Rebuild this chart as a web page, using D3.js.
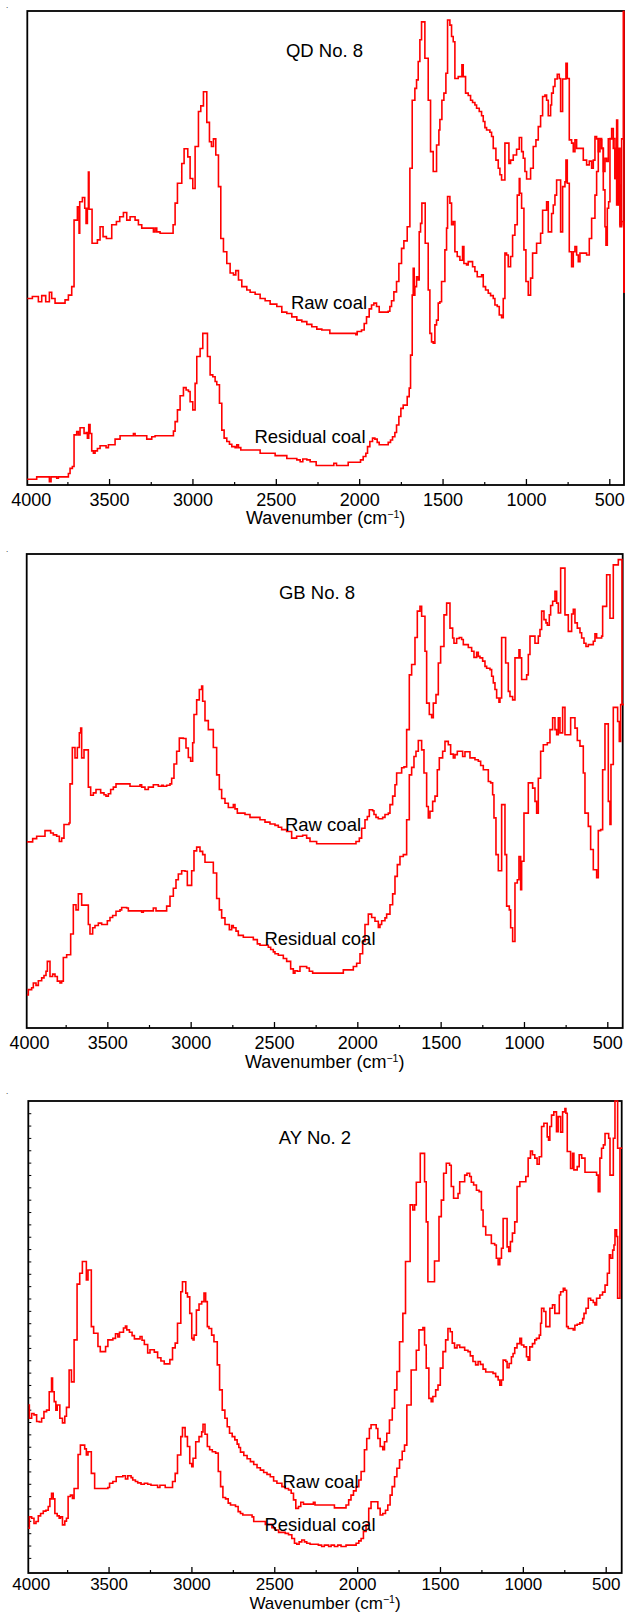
<!DOCTYPE html>
<html>
<head>
<meta charset="utf-8">
<script src="https://cdn.jsdelivr.net/npm/d3@7"></script>
<style>
  body { margin: 0; background: #fff; }
  text { font-family: "Liberation Sans", Arial, Helvetica, sans-serif; fill: #000; }
</style>
</head>
<body>
<script>
// FTIR spectra: [wavenumber (cm-1), relative absorbance (0-100 of panel height)]
const qdRaw = [[4000,39.1],[3960,39.5],[3924,38.4],[3904,39.7],[3880,38.4],[3858,40.4],[3844,39.1],[3824,38.1],[3764,38.8],[3744,39.8],[3724,41.6],[3710,55.7],[3690,58.5],[3680,52.9],[3676,59.6],[3660,60.5],[3646,58.2],[3638,55.0],[3630,58.2],[3624,65.9],[3620,58.0],[3602,50.8],[3570,51.5],[3554,54.3],[3536,52.2],[3516,51.8],[3484,54.7],[3456,55.4],[3436,56.4],[3414,57.3],[3394,55.7],[3374,56.4],[3344,55.7],[3324,54.7],[3304,54.0],[3234,53.2],[3224,54.0],[3214,53.2],[3194,52.9],[3116,54.7],[3104,59.3],[3090,63.5],[3064,67.7],[3050,70.8],[3028,69.1],[3014,64.5],[2998,62.4],[2984,71.3],[2964,78.7],[2950,79.9],[2934,82.9],[2914,76.4],[2898,72.3],[2886,71.3],[2874,72.9],[2860,69.5],[2844,62.8],[2830,51.8],[2814,49.0],[2794,46.5],[2774,44.5],[2754,44.1],[2740,45.0],[2724,43.0],[2704,41.6],[2674,40.9],[2654,40.4],[2624,40.0],[2594,39.1],[2564,38.6],[2534,37.9],[2494,37.4],[2464,36.2],[2434,35.9],[2404,35.2],[2374,34.5],[2344,34.2],[2314,33.6],[2284,33.1],[2254,32.6],[2224,32.4],[2176,31.7],[2020,31.4],[2012,32.1],[1986,32.4],[1970,33.8],[1956,35.2],[1940,36.9],[1926,37.7],[1912,38.1],[1896,37.4],[1880,36.2],[1826,36.4],[1816,37.4],[1806,38.6],[1792,40.5],[1776,42.7],[1762,46.5],[1746,49.7],[1732,51.3],[1712,54.3],[1696,66.7],[1682,81.1],[1666,83.6],[1656,85.4],[1646,89.3],[1636,93.9],[1626,97.7],[1606,90.0],[1586,81.1],[1572,70.2],[1556,66.0],[1536,71.6],[1522,74.8],[1516,77.0],[1504,81.1],[1492,82.6],[1480,86.8],[1470,98.1],[1456,97.0],[1446,94.6],[1436,93.5],[1426,85.7],[1406,86.1],[1384,88.6],[1376,86.1],[1362,82.6],[1346,82.1],[1332,81.1],[1320,80.6],[1306,80.1],[1296,79.4],[1280,78.7],[1266,77.8],[1256,76.6],[1246,75.3],[1236,74.8],[1216,74.3],[1206,73.4],[1196,70.9],[1180,68.4],[1166,66.7],[1156,65.3],[1146,64.2],[1126,72.0],[1102,67.7],[1092,68.4],[1076,69.5],[1056,70.7],[1040,73.2],[1026,70.2],[1016,68.8],[1006,66.0],[996,64.4],[972,66.7],[956,71.3],[940,72.7],[926,75.5],[912,77.8],[900,81.9],[886,82.2],[876,81.1],[866,77.8],[852,80.1],[846,82.6],[836,84.0],[826,85.6],[812,86.6],[800,85.7],[792,78.7],[780,85.6],[760,88.9],[752,85.7],[740,72.7],[726,72.0],[716,70.2],[706,72.7],[696,70.9],[656,68.4],[636,67.4],[620,68.2],[606,66.7],[596,68.4],[586,73.4],[576,72.9],[566,70.2],[556,72.7],[546,70.9],[536,66.0],[526,68.8],[516,68.1],[506,72.9],[486,75.1],[476,70.9],[466,64.5],[456,76.9],[450,59.0],[442,70.9],[436,54.7],[426,72.9],[416,99.9],[412,40.5],[400,40.5]];

const qdResidual = [[4000,0.8],[3934,1.3],[3858,0.3],[3848,1.3],[3814,1.0],[3804,1.3],[3744,2.0],[3734,3.1],[3720,3.5],[3710,10.2],[3694,10.9],[3684,10.2],[3674,11.7],[3650,10.5],[3638,10.7],[3630,9.5],[3622,12.4],[3614,10.5],[3604,6.8],[3594,6.3],[3584,6.8],[3570,7.3],[3554,7.9],[3518,7.5],[3504,8.1],[3464,9.3],[3434,10.0],[3354,10.5],[3344,10.0],[3274,9.3],[3244,9.8],[3224,10.0],[3114,11.0],[3104,13.0],[3090,15.5],[3074,18.5],[3054,20.2],[3038,19.7],[3024,19.4],[3014,17.2],[2998,15.5],[2984,21.1],[2974,26.8],[2954,28.5],[2938,31.7],[2910,26.8],[2894,22.9],[2878,22.5],[2864,21.5],[2854,20.8],[2838,16.9],[2824,11.2],[2810,9.5],[2794,8.8],[2778,8.2],[2764,7.7],[2744,7.5],[2734,8.1],[2724,7.5],[2710,7.0],[2594,6.3],[2504,5.8],[2434,5.2],[2374,4.9],[2354,4.5],[2338,5.1],[2314,4.9],[2294,4.5],[2258,3.7],[2152,4.2],[2136,3.7],[2066,4.4],[1992,4.9],[1976,5.6],[1960,6.3],[1950,7.7],[1936,8.8],[1920,9.5],[1906,9.3],[1892,8.6],[1880,8.1],[1826,8.6],[1812,9.1],[1800,9.8],[1786,10.7],[1776,12.3],[1762,14.1],[1750,15.8],[1736,16.5],[1712,18.3],[1700,20.1],[1692,27.1],[1682,39.8],[1676,45.5],[1670,39.8],[1666,41.6],[1656,43.7],[1646,43.0],[1640,53.2],[1632,55.0],[1624,59.3],[1604,50.8],[1586,40.9],[1576,31.7],[1566,29.9],[1556,29.6],[1546,33.5],[1536,34.5],[1526,38.1],[1516,38.4],[1506,42.7],[1486,49.4],[1476,54.0],[1470,60.7],[1456,59.3],[1446,54.7],[1436,55.4],[1426,49.0],[1412,48.0],[1396,47.2],[1380,50.1],[1372,46.5],[1356,46.2],[1346,46.9],[1320,45.8],[1306,44.8],[1292,43.7],[1266,44.1],[1256,41.6],[1242,40.9],[1226,40.2],[1212,39.7],[1196,39.1],[1186,37.7],[1172,37.4],[1160,35.6],[1146,35.0],[1136,39.1],[1126,48.7],[1116,48.3],[1106,45.8],[1092,48.0],[1080,52.5],[1066,54.7],[1052,61.0],[1040,64.5],[1036,61.4],[1026,58.2],[1012,49.4],[1000,42.7],[986,39.8],[972,43.4],[960,48.7],[936,50.8],[912,52.9],[900,57.8],[876,59.6],[866,53.2],[846,57.1],[836,58.9],[826,61.0],[816,64.2],[792,53.2],[780,62.8],[766,63.8],[760,68.4],[752,63.5],[740,49.0],[726,45.8],[716,49.0],[706,50.1],[696,48.3],[686,46.9],[676,48.7],[636,48.3],[620,51.8],[606,56.1],[586,61.0],[576,66.0],[566,73.0],[546,70.9],[536,62.1],[526,54.3],[520,50.4],[512,58.2],[504,59.6],[496,73.0],[466,64.5],[456,58.9],[446,63.1],[436,54.3],[426,55.4],[412,40.5],[400,40.5]];

const gbRaw = [[3984,39.0],[3948,39.7],[3924,40.2],[3874,41.4],[3840,40.9],[3824,40.5],[3804,40.2],[3788,39.1],[3774,39.8],[3760,42.7],[3730,43.0],[3724,51.3],[3710,59.0],[3694,56.8],[3680,59.0],[3668,62.1],[3660,63.1],[3654,56.8],[3640,58.5],[3614,50.6],[3600,48.9],[3584,49.4],[3568,50.1],[3540,49.4],[3520,49.0],[3508,48.7],[3494,49.2],[3480,50.1],[3464,50.6],[3448,51.3],[3364,50.8],[3304,51.1],[3294,50.6],[3274,50.1],[3254,50.6],[3224,51.1],[3194,50.8],[3174,51.0],[3164,50.8],[3144,51.0],[3124,51.3],[3114,52.5],[3100,55.5],[3084,58.2],[3068,61.0],[3044,60.9],[3028,58.9],[3014,56.9],[3000,56.1],[2988,60.0],[2980,66.0],[2964,69.1],[2948,71.3],[2934,72.0],[2928,68.8],[2914,64.7],[2894,62.8],[2864,59.0],[2844,53.2],[2828,50.1],[2814,48.2],[2794,47.2],[2774,46.3],[2744,46.9],[2734,46.0],[2720,45.1],[2674,44.8],[2644,44.2],[2584,43.7],[2554,43.2],[2524,42.8],[2494,42.5],[2474,42.1],[2454,41.6],[2424,41.2],[2394,39.8],[2364,40.2],[2328,40.4],[2304,39.8],[2284,39.1],[2244,38.6],[2008,39.1],[1988,39.8],[1974,41.9],[1954,43.7],[1940,44.4],[1928,45.8],[1908,45.6],[1900,44.8],[1888,44.2],[1874,43.9],[1848,44.2],[1834,44.8],[1814,45.1],[1804,46.9],[1788,48.7],[1774,51.1],[1764,53.6],[1734,54.7],[1720,54.9],[1704,62.8],[1688,74.4],[1674,76.6],[1654,82.3],[1640,87.9],[1624,88.9],[1614,86.8],[1594,79.4],[1584,68.4],[1568,66.0],[1554,65.3],[1544,68.4],[1528,70.2],[1514,76.9],[1500,80.4],[1480,87.1],[1464,89.6],[1444,84.3],[1428,82.2],[1420,81.1],[1404,82.1],[1388,82.3],[1374,81.9],[1364,80.8],[1334,80.2],[1314,79.4],[1300,78.1],[1284,79.2],[1274,78.3],[1264,78.0],[1248,77.3],[1234,76.2],[1224,75.8],[1204,75.5],[1194,74.1],[1184,72.7],[1174,71.3],[1164,69.5],[1150,68.6],[1144,69.5],[1134,82.3],[1110,76.9],[1094,70.9],[1084,69.8],[1068,69.1],[1054,78.0],[1030,79.7],[1024,78.0],[1014,73.4],[984,74.4],[974,78.7],[964,82.6],[934,81.1],[914,82.6],[904,84.0],[894,87.9],[880,86.1],[868,85.4],[860,84.9],[848,87.1],[840,89.1],[828,90.0],[814,92.1],[804,89.6],[794,87.5],[780,97.0],[754,87.1],[734,83.6],[714,87.3],[704,88.3],[694,85.4],[680,84.3],[664,83.3],[654,82.2],[640,81.1],[628,80.4],[614,80.8],[584,81.5],[574,83.1],[564,82.2],[534,82.6],[528,88.9],[504,95.6],[484,86.4],[464,97.7],[434,98.8],[412,68.1],[400,68.1]];

const gbResidual = [[3984,6.6],[3974,7.7],[3954,8.1],[3944,9.1],[3928,8.6],[3914,9.6],[3894,10.2],[3880,10.7],[3868,11.6],[3860,13.7],[3844,10.5],[3828,11.0],[3814,10.5],[3800,9.5],[3784,9.1],[3774,9.5],[3764,14.5],[3744,15.1],[3720,19.5],[3704,25.7],[3688,24.6],[3674,28.0],[3654,25.6],[3614,21.5],[3604,19.5],[3588,20.8],[3574,21.3],[3554,21.8],[3534,21.5],[3500,22.3],[3484,23.0],[3468,23.4],[3448,24.3],[3424,24.6],[3414,25.1],[3384,25.0],[3374,24.4],[3294,24.1],[3284,24.4],[3224,25.0],[3208,24.4],[3144,25.4],[3124,27.5],[3104,29.2],[3088,31.0],[3074,32.2],[3054,32.9],[3034,32.8],[3020,29.8],[2994,32.9],[2980,37.1],[2964,37.9],[2944,37.0],[2928,36.3],[2914,34.7],[2864,32.4],[2844,27.0],[2828,24.6],[2814,22.9],[2794,21.5],[2768,20.4],[2754,21.3],[2744,20.8],[2728,20.1],[2714,19.2],[2684,18.8],[2624,18.3],[2600,17.4],[2584,17.1],[2534,16.7],[2520,16.2],[2504,15.7],[2494,15.3],[2474,15.0],[2444,14.3],[2424,13.7],[2400,12.1],[2384,11.2],[2374,11.7],[2360,11.6],[2344,12.6],[2304,12.3],[2288,11.6],[2268,11.2],[2084,11.9],[2024,12.6],[2004,13.3],[1984,15.3],[1968,17.9],[1954,21.5],[1934,23.7],[1914,23.0],[1894,22.2],[1874,20.9],[1864,21.5],[1854,22.3],[1834,22.9],[1824,23.7],[1804,25.7],[1788,28.0],[1774,31.7],[1760,34.2],[1744,35.9],[1724,36.3],[1704,43.7],[1688,53.2],[1674,54.8],[1660,57.1],[1648,58.2],[1634,60.5],[1614,58.5],[1600,53.6],[1584,46.5],[1574,44.1],[1564,45.5],[1548,47.6],[1534,48.7],[1520,54.3],[1508,56.8],[1488,58.2],[1474,60.3],[1454,59.6],[1440,57.6],[1424,56.8],[1414,57.5],[1400,58.2],[1368,57.1],[1354,58.1],[1324,56.8],[1294,56.4],[1274,56.1],[1260,55.2],[1244,54.3],[1214,51.8],[1200,51.5],[1188,49.0],[1180,44.1],[1168,36.3],[1154,32.9],[1134,46.9],[1114,36.3],[1104,25.4],[1088,24.6],[1080,20.8],[1068,17.9],[1054,30.3],[1040,31.0],[1030,35.9],[1020,28.9],[1014,34.9],[1000,45.1],[974,51.5],[948,50.4],[934,47.6],[924,45.1],[914,52.5],[900,58.2],[884,59.6],[860,60.0],[844,62.8],[828,65.3],[814,62.8],[804,61.7],[794,65.3],[784,62.1],[768,67.5],[754,61.7],[720,65.3],[694,63.1],[680,60.5],[664,59.3],[644,53.6],[634,45.1],[614,42.3],[600,37.4],[584,33.1],[564,31.4],[554,41.4],[540,41.6],[528,54.3],[514,64.0],[494,47.6],[484,42.7],[478,55.4],[464,67.5],[438,64.5],[428,60.3],[420,68.1],[400,68.1]];

const ayRaw = [[3984,35.6],[3978,32.8],[3964,33.8],[3950,33.5],[3934,32.1],[3918,32.0],[3904,32.8],[3890,34.2],[3874,34.5],[3858,38.4],[3844,41.3],[3838,38.4],[3828,36.3],[3818,34.5],[3810,35.6],[3794,32.8],[3778,31.8],[3764,33.2],[3754,35.1],[3738,43.0],[3724,40.5],[3708,49.4],[3690,61.2],[3674,63.5],[3658,66.0],[3634,62.1],[3624,64.2],[3604,52.2],[3590,50.8],[3564,48.0],[3550,46.9],[3518,48.0],[3504,49.4],[3474,49.7],[3458,50.7],[3444,50.0],[3434,51.0],[3410,51.9],[3398,52.3],[3390,51.5],[3374,51.0],[3358,50.3],[3344,49.6],[3310,50.1],[3298,49.3],[3284,48.4],[3264,46.6],[3250,47.3],[3224,46.8],[3204,45.6],[3184,44.9],[3164,44.3],[3130,45.2],[3114,47.7],[3098,48.7],[3084,52.9],[3064,59.6],[3054,61.7],[3034,59.3],[3024,58.5],[3010,55.0],[2998,49.7],[2990,49.4],[2984,50.4],[2970,55.7],[2954,57.0],[2938,57.5],[2924,59.3],[2914,57.5],[2904,52.2],[2894,51.8],[2878,50.4],[2864,49.0],[2844,44.1],[2830,38.8],[2814,34.5],[2798,32.8],[2784,31.0],[2770,29.6],[2754,28.9],[2738,28.2],[2724,27.3],[2714,26.6],[2704,25.6],[2684,24.9],[2664,24.2],[2644,23.6],[2624,23.0],[2604,22.3],[2584,21.8],[2564,21.3],[2544,20.9],[2524,20.4],[2504,19.5],[2484,19.0],[2454,18.3],[2434,17.9],[2414,17.6],[2398,16.9],[2384,15.5],[2370,13.7],[2354,14.1],[2340,15.0],[2324,14.6],[2264,15.0],[2254,14.4],[2137,13.8],[2067,14.4],[2051,15.5],[2037,16.5],[2022,17.4],[2006,18.3],[1990,19.7],[1976,21.5],[1956,26.1],[1942,28.5],[1926,30.6],[1916,31.4],[1885,30.6],[1875,28.5],[1861,26.8],[1845,26.1],[1835,27.8],[1821,29.6],[1805,32.4],[1788,34.9],[1774,38.8],[1760,42.7],[1744,49.0],[1724,55.0],[1708,66.0],[1680,78.0],[1664,76.9],[1653,78.0],[1643,82.8],[1619,88.9],[1593,82.9],[1583,74.4],[1573,61.7],[1533,66.1],[1506,75.5],[1492,79.0],[1478,84.7],[1462,86.8],[1442,86.4],[1432,81.9],[1418,79.4],[1391,80.4],[1381,82.9],[1351,84.3],[1337,84.7],[1321,84.0],[1311,82.8],[1297,82.2],[1280,81.1],[1264,80.8],[1250,76.9],[1240,73.4],[1224,71.6],[1190,69.8],[1170,69.5],[1160,66.7],[1149,65.3],[1139,66.7],[1129,68.8],[1119,75.1],[1095,69.1],[1085,68.1],[1075,70.2],[1063,72.0],[1049,74.4],[1035,81.9],[1018,82.9],[982,84.0],[968,87.9],[954,89.4],[942,88.6],[928,87.9],[914,86.6],[901,88.2],[887,94.6],[873,95.3],[853,92.4],[845,91.7],[837,94.6],[827,97.0],[813,97.7],[797,93.5],[787,96.7],[772,93.4],[760,97.7],[746,98.4],[740,97.4],[732,89.3],[712,85.7],[700,88.9],[692,85.4],[672,86.1],[660,88.6],[645,87.9],[625,84.9],[555,84.3],[545,80.8],[535,87.9],[525,90.0],[514,90.7],[504,93.1],[482,92.1],[474,84.3],[454,92.1],[444,100],[428,90.0],[400,90.0]];

const ayResidual = [[3990,9.5],[3978,11.9],[3964,11.6],[3950,10.5],[3938,10.9],[3924,12.1],[3910,12.6],[3894,13.1],[3878,13.3],[3864,14.1],[3854,15.7],[3844,16.9],[3834,15.7],[3824,12.6],[3810,12.1],[3798,11.6],[3790,11.9],[3778,10.2],[3764,11.0],[3754,11.6],[3744,16.2],[3730,16.5],[3718,15.8],[3708,17.9],[3684,25.1],[3670,27.1],[3644,26.3],[3634,25.0],[3624,25.7],[3604,21.1],[3584,17.9],[3504,18.1],[3494,19.0],[3474,19.4],[3454,20.4],[3414,20.6],[3398,19.9],[3384,20.6],[3364,20.2],[3354,19.7],[3338,19.4],[3324,19.1],[3304,18.8],[3284,19.0],[3264,18.8],[3244,18.6],[3204,18.1],[3190,18.6],[3158,18.1],[3114,19.4],[3098,21.1],[3084,25.0],[3064,28.9],[3054,30.8],[3038,28.9],[3024,26.8],[3010,23.2],[2998,22.5],[2990,24.3],[2974,27.8],[2954,28.9],[2938,29.9],[2930,31.5],[2918,29.4],[2904,26.8],[2890,26.1],[2874,25.7],[2854,25.4],[2838,21.5],[2824,18.3],[2810,16.0],[2794,15.7],[2778,14.8],[2764,14.4],[2734,14.1],[2718,13.0],[2704,12.6],[2690,12.3],[2634,11.9],[2624,10.9],[2554,10.3],[2514,9.6],[2494,9.1],[2474,8.6],[2434,8.4],[2414,8.1],[2394,7.3],[2378,6.3],[2364,6.1],[2350,6.6],[2334,7.0],[2318,6.6],[2304,6.3],[2284,6.1],[2234,5.9],[2214,5.6],[2198,5.9],[2172,5.6],[2157,5.9],[2137,5.6],[2117,5.9],[2097,5.6],[2067,5.9],[2006,6.3],[1990,6.8],[1976,7.3],[1962,8.8],[1946,10.2],[1930,13.7],[1916,15.1],[1875,13.7],[1861,12.3],[1845,12.6],[1829,13.3],[1815,14.4],[1801,16.5],[1789,18.3],[1774,20.4],[1760,22.2],[1744,24.0],[1728,25.8],[1714,27.1],[1700,35.6],[1674,43.0],[1643,47.2],[1627,51.5],[1603,52.0],[1593,48.3],[1583,43.4],[1567,37.0],[1553,36.3],[1543,37.4],[1526,38.8],[1512,39.8],[1498,43.4],[1482,46.9],[1466,49.4],[1452,51.8],[1438,51.1],[1426,48.7],[1412,47.7],[1397,48.3],[1381,47.8],[1351,47.2],[1331,46.9],[1317,46.0],[1301,44.8],[1285,44.1],[1270,44.8],[1256,44.2],[1240,43.2],[1224,42.6],[1180,42.3],[1164,41.6],[1149,40.9],[1139,39.8],[1129,40.9],[1119,45.1],[1103,44.8],[1095,43.5],[1083,44.4],[1069,45.8],[1059,46.5],[1049,47.7],[1035,48.6],[1018,49.7],[1008,48.3],[994,47.9],[978,45.8],[968,45.1],[958,47.9],[942,48.6],[928,49.4],[918,49.7],[901,50.4],[893,52.9],[887,56.1],[873,55.4],[861,52.2],[837,56.1],[821,56.8],[807,55.0],[780,58.9],[772,59.6],[756,60.3],[746,59.9],[736,52.2],[726,51.8],[696,51.5],[686,52.5],[672,52.7],[656,53.0],[639,53.9],[631,55.0],[619,56.1],[605,58.2],[591,57.8],[575,57.3],[565,56.8],[555,58.2],[535,58.9],[519,59.5],[504,61.0],[490,63.5],[478,67.4],[470,66.7],[458,68.4],[450,69.5],[444,72.7],[434,71.3],[428,58.2],[414,90.0],[400,90.0]];

const titles = ["QD No. 8", "GB No. 8", "AY No. 2"];
const seriesNames = ["Raw coal", "Residual coal"];
const majorTicks = [4000, 3500, 3000, 2500, 2000, 1500, 1000, 500];
const minorTicks = [3750, 3250, 2750, 2250, 1750, 1250, 750];

// page geometry of the three stacked panels
const panels = [
  { raw: qdRaw, res: qdResidual, title: titles[0], top: 11, axisY: 485, left: 27.3, right: 624, x4000: 25.7, x500: 609.3,
    titlePos: [324.5, 56.5], rawPos: [329, 309], resPos: [310, 443], xlabelY: 524, tickFont: 18, tickPad: 8, xlabelFont: 18,
    dotY: 8, leftTicks: false },
  { raw: gbRaw, res: gbResidual, title: titles[1], top: 554, axisY: 1028, left: 26.7, right: 622.7, x4000: 24, x500: 607.3,
    titlePos: [317, 598.7], rawPos: [323, 830.7], resPos: [320, 945], xlabelY: 1067.5, tickFont: 18, tickPad: 8, xlabelFont: 18,
    dotY: 552, leftTicks: false },
  // bottom panel sits against the page edge, so its axis texts are packed a little tighter
  { raw: ayRaw, res: ayResidual, title: titles[2], top: 1101, axisY: 1573, left: 28.3, right: 621.7, x4000: 25.7, x500: 605.7,
    titlePos: [315, 1144.3], rawPos: [320.5, 1488], resPos: [320, 1531], xlabelY: 1609.2, tickFont: 17, tickPad: 4.5, xlabelFont: 17,
    dotY: 1094, leftTicks: true }
];

const width = 625, height = 1613;
const svg = d3.select("body").append("svg")
  .attr("width", width).attr("height", height)
  .attr("viewBox", [0, 0, width, height]);

panels.forEach((p, i) => {
  const x = d3.scaleLinear().domain([4000, 500]).range([p.x4000, p.x500]);
  const y = d3.scaleLinear().domain([0, 100]).range([p.top + 472, p.top]);
  const g = svg.append("g");

  // stray dot in the top-left corner of each scanned panel
  g.append("text").attr("x", 6).attr("y", p.dotY).attr("font-size", 8).text(".");

  const clipId = "clip" + i;
  g.append("clipPath").attr("id", clipId)
    .append("rect")
    .attr("x", p.left).attr("y", p.top - 2)
    .attr("width", p.right - p.left + 1).attr("height", p.axisY - p.top + 2);

  // frame
  g.append("rect")
    .attr("x", p.left).attr("y", p.top)
    .attr("width", p.right - p.left).attr("height", p.axisY - p.top)
    .attr("fill", "none").attr("stroke", "#000").attr("stroke-width", 1.8);

  // bottom axis, ticks pointing inward
  const xAxis = g.append("g")
    .attr("transform", `translate(0,${p.axisY})`)
    .call(d3.axisBottom(x).tickValues(majorTicks).tickSizeInner(-6).tickSizeOuter(0).tickPadding(p.tickPad).tickFormat(d3.format("d")));
  xAxis.select(".domain").remove();
  xAxis.selectAll(".tick line").attr("stroke", "#000").attr("stroke-width", 1.3)
    .filter(d => d === 4000).remove();
  xAxis.selectAll(".tick text")
    .attr("font-size", p.tickFont).attr("font-family", "\"Liberation Sans\", Arial, sans-serif").attr("fill", "#000")
    .attr("dx", d => d === 4000 ? 5 : 0);

  const xMinor = g.append("g")
    .attr("transform", `translate(0,${p.axisY})`)
    .call(d3.axisBottom(x).tickValues(minorTicks).tickSizeInner(-3).tickSizeOuter(0).tickFormat(""));
  xMinor.select(".domain").remove();
  xMinor.selectAll(".tick line").attr("stroke", "#000").attr("stroke-width", 1.2);

  if (p.leftTicks) {
    const yMinor = g.append("g")
      .attr("transform", `translate(${p.left},0)`)
      .call(d3.axisRight(y).tickValues(d3.range(3.2, 100, 2.617)).tickSizeInner(3).tickSizeOuter(0).tickFormat(""));
    yMinor.select(".domain").remove();
    yMinor.selectAll(".tick line").attr("stroke", "#000").attr("stroke-width", 1);
  }

  // spectra
  const line = d3.line()
    .x(d => x(d[0]))
    .y(d => y(d[1]))
    .curve(d3.curveStepAfter);

  g.append("g").attr("clip-path", `url(#${clipId})`)
    .selectAll("path")
    .data([p.raw, p.res])
    .join("path")
    .attr("d", line)
    .attr("fill", "none")
    .attr("stroke", "#ff0000")
    .attr("stroke-width", 1.6)
    .attr("stroke-linejoin", "miter");

  // labels
  g.append("text")
    .attr("x", p.titlePos[0]).attr("y", p.titlePos[1])
    .attr("text-anchor", "middle").attr("font-size", 18.5)
    .text(p.title);

  g.append("text")
    .attr("x", p.rawPos[0]).attr("y", p.rawPos[1])
    .attr("text-anchor", "middle").attr("font-size", 18.5)
    .text(seriesNames[0]);

  g.append("text")
    .attr("x", p.resPos[0]).attr("y", p.resPos[1])
    .attr("text-anchor", "middle").attr("font-size", 18.5)
    .text(seriesNames[1]);

  const xl = g.append("text")
    .attr("x", (p.left + p.right) / 2).attr("y", p.xlabelY)
    .attr("text-anchor", "middle").attr("font-size", p.xlabelFont);
  xl.append("tspan").text("Wavenumber (cm");
  xl.append("tspan").attr("dy", -6).attr("font-size", 10.5).text("\u22121");
  xl.append("tspan").attr("dy", 6).text(")");
});
</script>
</body>
</html>
